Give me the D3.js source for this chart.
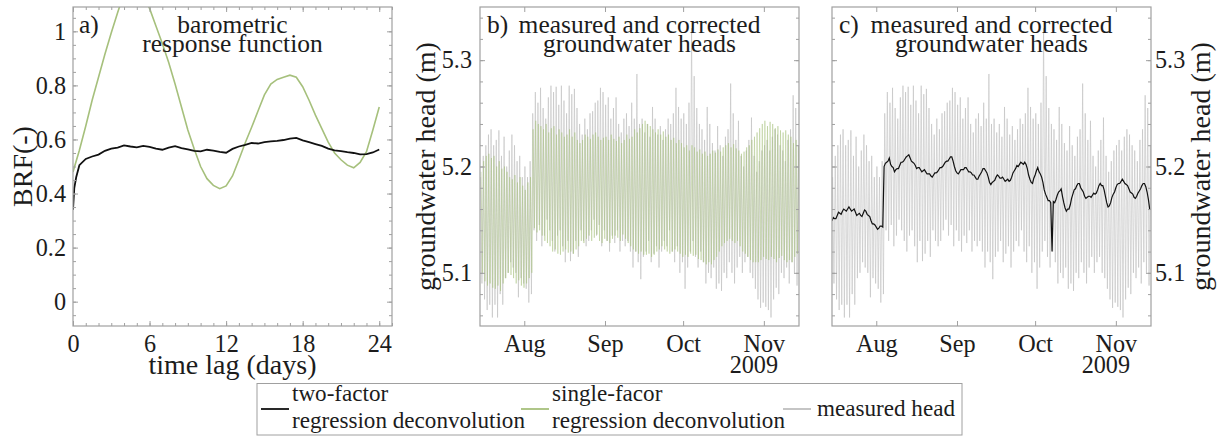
<!DOCTYPE html>
<html>
<head>
<meta charset="utf-8">
<script src="https://cdn.jsdelivr.net/npm/d3@7"></script>
<style>
  body { margin: 0; background: #fff; }
  svg { display: block; }
</style>
</head>
<body>
<svg id="fig" width="1222" height="437"></svg>
<script>
// ---------------- data ----------------
// a) barometric response functions vs. time lag (days)
const brfLagTwo = [0, 0.1, 0.25, 0.5, 1, 1.5, 2, 2.5, 3, 3.5, 4, 4.5, 5, 5.5, 6, 6.5, 7, 7.5, 8, 8.5, 9, 9.5, 10, 10.5, 11, 11.5, 12, 12.5, 13, 13.5, 14, 14.5, 15, 15.5, 16, 16.5, 17, 17.5, 18, 18.5, 19, 19.5, 20, 20.5, 21, 21.5, 22, 22.5, 23, 23.5, 24];
const brfTwoFactor = [0.34, 0.42, 0.46, 0.505, 0.528, 0.537, 0.544, 0.558, 0.566, 0.570, 0.578, 0.574, 0.571, 0.576, 0.573, 0.566, 0.562, 0.570, 0.575, 0.568, 0.563, 0.558, 0.556, 0.562, 0.559, 0.554, 0.551, 0.565, 0.574, 0.580, 0.587, 0.585, 0.590, 0.593, 0.595, 0.598, 0.603, 0.606, 0.597, 0.590, 0.583, 0.576, 0.566, 0.560, 0.557, 0.553, 0.550, 0.545, 0.546, 0.552, 0.563];
const brfLagSingle = [0, 0.5, 1, 1.5, 2, 2.5, 3, 3.5, 4, 4.5, 5, 5.5, 6, 6.5, 7, 7.5, 8, 8.5, 9, 9.5, 10, 10.5, 11, 11.5, 12, 12.5, 13, 13.5, 14, 14.5, 15, 15.5, 16, 16.5, 17, 17.5, 18, 18.5, 19, 19.5, 20, 20.5, 21, 21.5, 22, 22.5, 23, 23.5, 24];
const brfSingleFactor = [0.48, 0.56, 0.65, 0.745, 0.83, 0.915, 0.995, 1.07, 1.14, 1.18, 1.17, 1.13, 1.085, 1.02, 0.955, 0.885, 0.805, 0.72, 0.635, 0.565, 0.50, 0.455, 0.43, 0.418, 0.428, 0.465, 0.525, 0.588, 0.645, 0.705, 0.765, 0.805, 0.822, 0.830, 0.838, 0.830, 0.795, 0.745, 0.69, 0.64, 0.59, 0.55, 0.525, 0.505, 0.495, 0.515, 0.555, 0.635, 0.72];

// b), c) groundwater heads, one entry per day starting 2009-07-15
const seriesStart = "2009-07-15";
const measuredHigh = [5.19, 5.21, 5.22, 5.23, 5.235, 5.22, 5.225, 5.234, 5.21, 5.228, 5.20, 5.215, 5.23, 5.22, 5.205, 5.21, 5.19, 5.20, 5.19, 5.205,
  5.25, 5.27, 5.26, 5.274, 5.255, 5.245, 5.265, 5.276, 5.27, 5.275, 5.258, 5.276, 5.262, 5.25, 5.276, 5.268, 5.273, 5.255, 5.24, 5.23, 5.245,
  5.235, 5.25, 5.252, 5.26, 5.262, 5.274, 5.27, 5.258, 5.265, 5.245, 5.255, 5.265, 5.24, 5.232, 5.245, 5.25, 5.238, 5.26, 5.245, 5.287, 5.24, 5.245,
  5.232, 5.24, 5.228, 5.256, 5.245, 5.23, 5.238, 5.225, 5.235, 5.245, 5.24, 5.25, 5.274, 5.256, 5.245, 5.25, 5.24, 5.26, 5.33, 5.285, 5.255, 5.24,
  5.235, 5.225, 5.256, 5.24, 5.222, 5.215, 5.238, 5.22, 5.21, 5.228, 5.235, 5.278, 5.25, 5.225, 5.243, 5.21, 5.2, 5.215, 5.225, 5.246, 5.21, 5.195, 5.205, 5.215,
  5.22, 5.225, 5.215, 5.228, 5.235, 5.23, 5.22, 5.215, 5.205, 5.225, 5.235, 5.267, 5.255, 5.22];
const measuredLow = [5.09, 5.075, 5.065, 5.07, 5.058, 5.07, 5.058, 5.08, 5.07, 5.095, 5.1, 5.11, 5.105, 5.10, 5.077, 5.095, 5.09, 5.085, 5.072, 5.08,
  5.14, 5.13, 5.145, 5.125, 5.135, 5.15, 5.14, 5.13, 5.12, 5.135, 5.14, 5.125, 5.11, 5.13, 5.111, 5.118, 5.13, 5.115, 5.14, 5.13, 5.125,
  5.13, 5.14, 5.15, 5.135, 5.145, 5.125, 5.14, 5.13, 5.12, 5.135, 5.128, 5.14, 5.12, 5.13, 5.125, 5.13, 5.12, 5.105, 5.12, 5.11, 5.094, 5.115,
  5.12, 5.13, 5.11, 5.118, 5.125, 5.105, 5.12, 5.13, 5.125, 5.14, 5.12, 5.11, 5.125, 5.1, 5.11, 5.085, 5.105, 5.12, 5.13, 5.115, 5.105, 5.12,
  5.11, 5.09, 5.1, 5.095, 5.105, 5.085, 5.09, 5.083, 5.1, 5.095, 5.11, 5.1, 5.09, 5.105, 5.115, 5.1, 5.11, 5.115, 5.1, 5.095, 5.085, 5.075, 5.067, 5.072,
  5.068, 5.065, 5.058, 5.075, 5.086, 5.08, 5.1, 5.095, 5.105, 5.09, 5.11, 5.1, 5.088, 5.1];
const singleHigh = [5.195, 5.205, 5.21, 5.212, 5.208, 5.21, 5.2, 5.205, 5.198, 5.2, 5.195, 5.19, 5.188, 5.192, 5.185, 5.19, 5.182, 5.178, 5.185, 5.19,
  5.235, 5.243, 5.24, 5.238, 5.235, 5.24, 5.232, 5.236, 5.238, 5.23, 5.235, 5.232, 5.228, 5.23,
  5.235, 5.228, 5.232, 5.225, 5.222, 5.225, 5.23, 5.228, 5.226, 5.23, 5.232, 5.228, 5.225, 5.227,
  5.228, 5.225, 5.23, 5.226, 5.224, 5.228, 5.222, 5.225, 5.23, 5.226, 5.228, 5.235, 5.232, 5.236, 5.24,
  5.243, 5.24, 5.238, 5.235, 5.232, 5.235, 5.23, 5.233, 5.228, 5.23, 5.225, 5.227, 5.222,
  5.225, 5.222, 5.218, 5.22, 5.215, 5.22, 5.218, 5.214, 5.216, 5.212, 5.214, 5.21, 5.212, 5.215, 5.213,
  5.216, 5.214, 5.218, 5.22, 5.222, 5.218, 5.221, 5.217, 5.215, 5.212, 5.214, 5.218, 5.22, 5.225, 5.228,
  5.232, 5.236, 5.24, 5.243, 5.238, 5.242, 5.24, 5.236, 5.238, 5.234, 5.232, 5.234, 5.23, 5.228, 5.222, 5.225, 5.22];
const singleLow = [5.1, 5.092, 5.088, 5.09, 5.086, 5.085, 5.088, 5.083, 5.09, 5.095, 5.1, 5.098, 5.095, 5.09, 5.093, 5.088, 5.086, 5.09, 5.095, 5.1,
  5.142, 5.138, 5.14, 5.135, 5.13, 5.128, 5.125, 5.12, 5.122, 5.118, 5.117, 5.12, 5.122, 5.119,
  5.12, 5.118, 5.122, 5.125, 5.13, 5.128, 5.132, 5.135, 5.13, 5.133, 5.136, 5.13, 5.128, 5.132,
  5.13, 5.128, 5.132, 5.135, 5.133, 5.13, 5.136, 5.132, 5.128, 5.125, 5.122, 5.12, 5.118, 5.12, 5.117,
  5.117, 5.118, 5.115, 5.117, 5.12, 5.122, 5.125, 5.122, 5.12, 5.118, 5.12, 5.122, 5.12,
  5.118, 5.115, 5.117, 5.115, 5.118, 5.116, 5.117, 5.113, 5.112, 5.11, 5.108, 5.11, 5.108, 5.112, 5.115,
  5.12, 5.125, 5.128, 5.13, 5.132, 5.13, 5.128, 5.13, 5.125, 5.12, 5.118, 5.115, 5.112, 5.11, 5.11,
  5.11, 5.112, 5.115, 5.113, 5.112, 5.115, 5.113, 5.11, 5.114, 5.116, 5.112, 5.11, 5.112, 5.11, 5.115, 5.118, 5.12];
// two-factor corrected head, every half day starting 2009-07-15
const twoFactorHead = [5.149, 5.152, 5.151, 5.151, 5.154, 5.157, 5.156, 5.155, 5.158, 5.160, 5.159, 5.158, 5.160, 5.162, 5.160, 5.158, 5.159, 5.160, 5.157, 5.154,
  5.155, 5.156, 5.154, 5.153, 5.156, 5.159, 5.158, 5.155, 5.154, 5.153, 5.149, 5.146, 5.146, 5.145, 5.143, 5.141, 5.142, 5.144, 5.144, 5.143,
  5.200, 5.203, 5.204, 5.205, 5.208, 5.202, 5.200, 5.199, 5.195, 5.197, 5.198, 5.198, 5.201, 5.204, 5.204, 5.205, 5.207, 5.209, 5.210, 5.211,
  5.208, 5.205, 5.204, 5.203, 5.201, 5.198, 5.199, 5.199, 5.197, 5.195, 5.196, 5.197, 5.195, 5.193, 5.193, 5.193, 5.191, 5.190, 5.192, 5.194,
  5.194, 5.195, 5.197, 5.199, 5.199, 5.200, 5.202, 5.204, 5.205, 5.205, 5.207, 5.209, 5.209, 5.205, 5.200, 5.196, 5.194, 5.193, 5.195, 5.197,
  5.197, 5.197, 5.199, 5.199, 5.197, 5.195, 5.195, 5.194, 5.192, 5.192, 5.190, 5.188, 5.188, 5.191, 5.193, 5.195, 5.198, 5.198, 5.196, 5.194,
  5.190, 5.185, 5.183, 5.185, 5.186, 5.187, 5.190, 5.192, 5.191, 5.189, 5.189, 5.190, 5.188, 5.186, 5.187, 5.188, 5.186, 5.187, 5.190, 5.194,
  5.196, 5.198, 5.201, 5.200, 5.202, 5.204, 5.203, 5.202, 5.204, 5.202, 5.198, 5.192, 5.188, 5.185, 5.184, 5.189, 5.192, 5.196, 5.199, 5.195,
  5.193, 5.190, 5.185, 5.178, 5.174, 5.171, 5.168, 5.168, 5.166, 5.120, 5.167, 5.166, 5.169, 5.173, 5.176, 5.177, 5.179, 5.172, 5.166, 5.161,
  5.158, 5.160, 5.160, 5.164, 5.170, 5.174, 5.178, 5.179, 5.182, 5.184, 5.184, 5.180, 5.178, 5.176, 5.172, 5.170, 5.171, 5.172, 5.172, 5.171,
  5.173, 5.175, 5.174, 5.175, 5.178, 5.182, 5.184, 5.182, 5.182, 5.178, 5.172, 5.166, 5.162, 5.163, 5.166, 5.171, 5.174, 5.176, 5.180, 5.183,
  5.184, 5.184, 5.186, 5.188, 5.186, 5.184, 5.183, 5.182, 5.179, 5.176, 5.175, 5.174, 5.171, 5.170, 5.172, 5.175, 5.177, 5.179, 5.182, 5.184,
  5.184, 5.181, 5.176, 5.169, 5.160];

// axis ticks and labels
const lagTicks = [0, 6, 12, 18, 24];
const brfTicks = [0, 0.2, 0.4, 0.6, 0.8, 1];
const brfTickLabels = ["0", "0.2", "0.4", "0.6", "0.8", "1"];
const headTicks = [5.1, 5.2, 5.3];
const headTickLabels = ["5.1", "5.2", "5.3"];
const monthTicks = ["2009-08-01", "2009-09-01", "2009-10-01", "2009-11-01"];
const monthLabels = ["Aug", "Sep", "Oct", "Nov"];
const yearLabel = "2009";

// ---------------- fonts ----------------
// first installed serif face (checked by comparing glyph widths)
function firstInstalled(cands, fallback) {
  const ctx = document.createElement("canvas").getContext("2d");
  const probe = "mmmwwwlliI0O9 abcdefgh";
  for (const f of cands) {
    for (const base of ["monospace", "sans-serif"]) {
      ctx.font = `60px ${base}`;
      const w0 = ctx.measureText(probe).width;
      ctx.font = `60px "${f}", ${base}`;
      if (Math.abs(ctx.measureText(probe).width - w0) > 0.5) return f;
    }
  }
  return fallback;
}
const FACE = firstInstalled(["Liberation Serif", "Tinos", "Times New Roman", "Nimbus Roman", "FreeSerif", "Noto Serif", "DejaVu Serif"], "serif");
const FONT = `"${FACE}", serif`;

// font size that gives a string the wanted width
const measureCtx = document.createElement("canvas").getContext("2d");
function sizeFor(str, width) {
  measureCtx.font = `100px ${FONT}`;
  return 100 * width / measureCtx.measureText(str).width;
}
const FS_TICK = Math.min(25, sizeFor("Aug", 41.7));
const FS_LABEL = Math.min(29, sizeFor("time lag (days)", 168));
const FS_TITLE = Math.min(26, sizeFor("measured and corrected", 242));
const FS_LEGEND = Math.min(24, sizeFor("measured head", 138));

// ---------------- drawing ----------------
const TXT = "#1c1c1c";
const FRAME = "#a0a0a0";
const C_TWO = "#111111";
const C_SINGLE = "#a6c07c";
const C_MEAS = "#bfbfbf";
const DAY = 864e5;

const svg = d3.select("#fig");
const parseDay = d3.utcParse("%Y-%m-%d");
const t0 = parseDay(seriesStart).getTime();
const dayAt = d => new Date(t0 + d * DAY);

function styleAxis(g) {
  g.attr("font-family", FONT).attr("font-size", FS_TICK);
  g.select(".domain").remove();
  g.selectAll(".tick line").attr("stroke", FRAME).attr("stroke-width", 1);
  g.selectAll(".tick text").attr("fill", TXT);
}

// inward ticks on all four sides plus the frame
function decorate(g, w, h, x, y, o) {
  const blank = () => "";
  styleAxis(g.append("g").attr("transform", `translate(0,${h})`)
    .call(d3.axisBottom(x).tickValues(o.xMajor).tickSize(-5).tickPadding(o.xPad).tickFormat(o.xFmt)));
  styleAxis(g.append("g")
    .call(d3.axisTop(x).tickValues(o.xMajor).tickSize(-5).tickFormat(blank)));
  if (o.xMinor) {
    styleAxis(g.append("g").attr("transform", `translate(0,${h})`)
      .call(d3.axisBottom(x).tickValues(o.xMinor).tickSize(-3).tickFormat(blank)));
    styleAxis(g.append("g").call(d3.axisTop(x).tickValues(o.xMinor).tickSize(-3).tickFormat(blank)));
  }
  const labelLeft = o.ySide === "left";
  styleAxis(g.append("g")
    .call(d3.axisLeft(y).tickValues(o.yMajor).tickSize(-5).tickPadding(o.yPad).tickFormat(labelLeft ? o.yFmt : blank)));
  styleAxis(g.append("g").attr("transform", `translate(${w},0)`)
    .call(d3.axisRight(y).tickValues(o.yMajor).tickSize(-5).tickPadding(o.yPad).tickFormat(labelLeft ? blank : o.yFmt)));
  styleAxis(g.append("g").call(d3.axisLeft(y).tickValues(o.yMinor).tickSize(-3).tickFormat(blank)));
  styleAxis(g.append("g").attr("transform", `translate(${w},0)`)
    .call(d3.axisRight(y).tickValues(o.yMinor).tickSize(-3).tickFormat(blank)));
  g.append("rect").attr("width", w).attr("height", h)
    .attr("fill", "none").attr("stroke", FRAME).attr("stroke-width", 1.2);
}

function addClip(id, w, h) {
  svg.append("clipPath").attr("id", id).append("rect").attr("width", w).attr("height", h);
}

function txt(parent, x, y, s, size, anchor, rot) {
  const t = parent.append("text")
    .attr("font-family", FONT).attr("font-size", size).attr("fill", TXT)
    .attr("text-anchor", anchor || "start").text(s);
  if (rot) t.attr("transform", `translate(${x},${y}) rotate(${rot})`);
  else t.attr("x", x).attr("y", y);
  return t;
}

// zig-zag daily cycle: daily maximum then daily minimum
function dailyCycle(high, low, phase) {
  const pts = [];
  high.forEach((h, i) => {
    pts.push({ t: dayAt(i + phase), v: h });
    pts.push({ t: dayAt(i + phase + 0.5), v: low[i] });
  });
  return pts;
}

const PW = 319, PH = 319, TOP = 7;

// ---------- panel a ----------
{
  const gx = 73;
  const g = svg.append("g").attr("transform", `translate(${gx},${TOP})`);
  const x = d3.scaleLinear().domain([0, 25]).range([0, PW]);
  const y = d3.scaleLinear().domain([-0.09, 1.09]).range([PH, 0]);
  addClip("clipA", PW, PH);
  const plot = g.append("g").attr("clip-path", "url(#clipA)");
  const line = d3.line().x(d => x(d[0])).y(d => y(d[1]));
  plot.append("path").datum(d3.zip(brfLagSingle, brfSingleFactor))
    .attr("d", line).attr("fill", "none").attr("stroke", C_SINGLE).attr("stroke-width", 1.6);
  plot.append("path").datum(d3.zip(brfLagTwo, brfTwoFactor))
    .attr("d", line).attr("fill", "none").attr("stroke", C_TWO).attr("stroke-width", 1.8);

  decorate(g, PW, PH, x, y, {
    xMajor: lagTicks, xMinor: d3.range(0, 26, 1), xPad: 9, xFmt: d3.format("d"),
    yMajor: brfTicks, yMinor: d3.range(-0.05, 1.09, 0.05), yPad: 7,
    yFmt: d => brfTickLabels[brfTicks.indexOf(d)], ySide: "left"
  });

  txt(g, 6, 26, "a)", FS_TITLE);
  txt(g, PW / 2, 26, "barometric", FS_TITLE, "middle");
  txt(g, PW / 2, 45, "response function", FS_TITLE, "middle");
  txt(svg, gx + PW / 2, 374, "time lag (days)", FS_LABEL, "middle");
  txt(svg, 32, TOP + PH / 2, "BRF(-)", FS_LABEL, "middle", -90);
}

// ---------- panels b and c ----------
function headPanel(gx, id, letter, opts) {
  const g = svg.append("g").attr("transform", `translate(${gx},${TOP})`);
  const x = d3.scaleUtc().domain([dayAt(0), dayAt(122.5)]).range([0, PW]);
  const y = d3.scaleLinear().domain([5.05, 5.35]).range([PH, 0]);
  addClip(id, PW, PH);
  const plot = g.append("g").attr("clip-path", `url(#${id})`);
  const line = d3.line().x(d => x(d.t)).y(d => y(d.v));

  plot.append("path").datum(dailyCycle(measuredHigh, measuredLow, 0.25))
    .attr("d", line).attr("fill", "none").attr("stroke", C_MEAS).attr("stroke-width", 0.6);
  if (opts.single) {
    plot.append("path").datum(dailyCycle(singleHigh, singleLow, 0.4))
      .attr("d", line).attr("fill", "none").attr("stroke", C_SINGLE)
      .attr("stroke-width", 0.5).attr("stroke-opacity", 0.9);
  }
  if (opts.two) {
    plot.append("path").datum(twoFactorHead.map((v, i) => ({ t: dayAt(i * 0.5), v })))
      .attr("d", line).attr("fill", "none").attr("stroke", C_TWO).attr("stroke-width", 1.2);
  }

  const months = monthTicks.map(parseDay);
  decorate(g, PW, PH, x, y, {
    xMajor: months, xMinor: null, xPad: 9,
    xFmt: d => monthLabels[months.findIndex(m => m.getTime() === d.getTime())],
    yMajor: headTicks, yMinor: d3.range(5.06, 5.35, 0.02), yPad: opts.ySide === "left" ? 8 : 4,
    yFmt: d => headTickLabels[headTicks.indexOf(d)], ySide: opts.ySide
  });
  txt(g, x(months[3]) - 10, 366, yearLabel, FS_TICK, "middle");

  txt(g, 7, 26, letter, FS_TITLE);
  txt(g, PW / 2, 26, "measured and corrected", FS_TITLE, "middle");
  txt(g, PW / 2, 45, "groundwater heads", FS_TITLE, "middle");
  txt(svg, opts.labelX, TOP + PH / 2, "groundwater head (m)", FS_LABEL, "middle", -90);
}

headPanel(480, "clipB", "b)", { single: true, two: false, ySide: "left", labelX: 435 });
headPanel(832, "clipC", "c)", { single: false, two: true, ySide: "right", labelX: 1210 });

// ---------- legend ----------
{
  const lg = svg.append("g");
  lg.append("rect").attr("x", 257).attr("y", 383.5).attr("width", 705).attr("height", 51.5)
    .attr("fill", "#fff").attr("stroke", FRAME).attr("stroke-width", 1);
  const entries = [
    { color: C_TWO, x: 261, lines: ["two-factor", "regression deconvolution"] },
    { color: C_SINGLE, x: 521, lines: ["single-facor", "regression deconvolution"] },
    { color: C_MEAS, x: 783, lines: ["measured head"] }
  ];
  entries.forEach(e => {
    lg.append("line").attr("x1", e.x).attr("x2", e.x + 28).attr("y1", 409).attr("y2", 409)
      .attr("stroke", e.color).attr("stroke-width", 1.8);
    if (e.lines.length === 2) {
      txt(lg, e.x + 31, 401, e.lines[0], FS_LEGEND);
      txt(lg, e.x + 31, 428, e.lines[1], FS_LEGEND);
    } else {
      txt(lg, e.x + 34, 416, e.lines[0], FS_LEGEND);
    }
  });
}
</script>
</body>
</html>
